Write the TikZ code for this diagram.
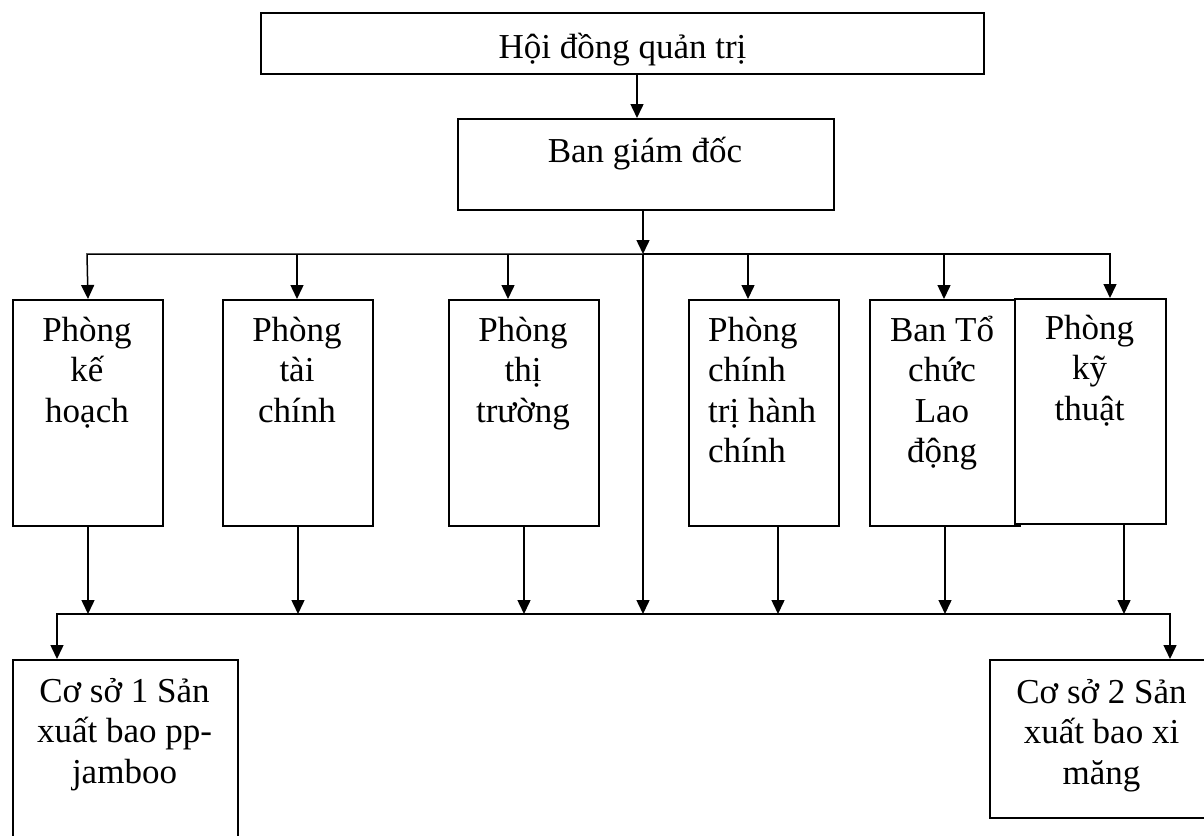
\documentclass[tikz,border=0pt]{standalone}
\usepackage{fontspec}
\setmainfont{Liberation Serif}
\usetikzlibrary{arrows.meta}
\newcommand\orglines[2][c]{\begin{tabular}[t]{@{}#1@{}}#2\end{tabular}}
\begin{document}
\begin{tikzpicture}[x=1pt,y=-1pt,
  box/.style={draw, line width=2pt, inner sep=0pt, anchor=north west, fill=white},
  conn/.style={line width=1.5pt, line join=miter},
  arr/.style={conn, -{Triangle[width=13pt,length=14pt]}},
  txt/.style={anchor=base, inner sep=0pt, font=\fontsize{35}{40.5}\selectfont}]
\useasboundingbox (0,0) rectangle (1204,835);
\clip (0,0) rectangle (1204,835);
% boxes
\node[box, minimum width=723pt, minimum height=61pt] (top) at (260,12) {};
\node[box, minimum width=376pt, minimum height=91pt] (ban) at (457,118) {};
\node[box, minimum width=150pt, minimum height=226pt] (b1) at (12,299) {};
\node[box, minimum width=150pt, minimum height=226pt] (b2) at (222,299) {};
\node[box, minimum width=150pt, minimum height=226pt] (b3) at (448,299) {};
\node[box, minimum width=150pt, minimum height=226pt] (b4) at (688,299) {};
\node[box, minimum width=150pt, minimum height=226pt] (b5) at (869,299) {};
\node[box, minimum width=151pt, minimum height=225pt] (b6) at (1014,298) {};
\node[box, minimum width=225pt, minimum height=250pt] (cs1) at (12,659) {};
\node[box, minimum width=225pt, minimum height=158pt] (cs2) at (989,659) {};
% texts
\node[txt] (ttop) at (622.5,58) {Hội đồng quản trị};
\node[txt] (tban) at (645,162) {Ban giám đốc};
\node[txt] (t1) at (87,341) {\orglines{Phòng\\kế\\hoạch}};
\node[txt] (t2) at (297,341) {\orglines{Phòng\\tài\\chính}};
\node[txt] (t3) at (523,341) {\orglines{Phòng\\thị\\trường}};
\node[txt, anchor=base west] (t4) at (708,341) {\orglines[l]{Phòng\\chính\\trị hành\\chính}};
\node[txt] (t5) at (942,341) {\orglines{Ban Tổ\\chức\\Lao\\động}};
\node[txt] (t6) at (1089.5,339) {\orglines{Phòng\\kỹ\\thuật}};
\node[txt] (tc1) at (124.5,702) {\orglines{Cơ sở 1 Sản\\xuất bao pp-\\jamboo}};
\node[txt] (tc2) at (1101.5,703) {\orglines{Cơ sở 2 Sản\\xuất bao xi\\măng}};
% coordinates
\coordinate (xa) at (637,0);
\coordinate (u0) at (643,254);
\coordinate (uL) at (87,254);
\coordinate (uR) at (1110,254);
\coordinate (u2) at (297,254);
\coordinate (u3) at (508,254);
\coordinate (u4) at (748,254);
\coordinate (u5) at (944,254);
\coordinate (lC) at (643,614);
\coordinate (lL) at (57,614);
\coordinate (lR) at (1170,614);
\coordinate (d4) at (778,614);
\coordinate (d6) at (1124,614);
% connectors
\draw[arr] (top.south -| xa) -- (ban.north -| xa);
\draw[arr] (ban.south -| u0) -- (u0);
\draw[arr] (u0) -- (uL) -- (b1.north);
\draw[arr] (u0) -- (uR) -- (uR |- b6.north);
\draw[arr] (u2) -- (u2 |- b2.north);
\draw[arr] (u3) -- (u3 |- b3.north);
\draw[arr] (u4) -- (u4 |- b4.north);
\draw[arr] (u5) -- (u5 |- b5.north);
\draw[arr] (u0) -- (lC);
\draw[arr] (b1.south) -- (b1.south |- lL);
\draw[arr] (b2.south) -- (b2.south |- lL);
\draw[arr] (b3.south) -- (b3.south |- lL);
\draw[arr] (d4 |- b4.south) -- (d4);
\draw[arr] (b5.south) -- (b5.south |- lL);
\draw[arr] (d6 |- b6.south) -- (d6);
\draw[arr] (lC) -- (lL) -- (lL |- cs1.north);
\draw[arr] (lC) -- (lR) -- (lR |- cs2.north);
\end{tikzpicture}
\end{document}
